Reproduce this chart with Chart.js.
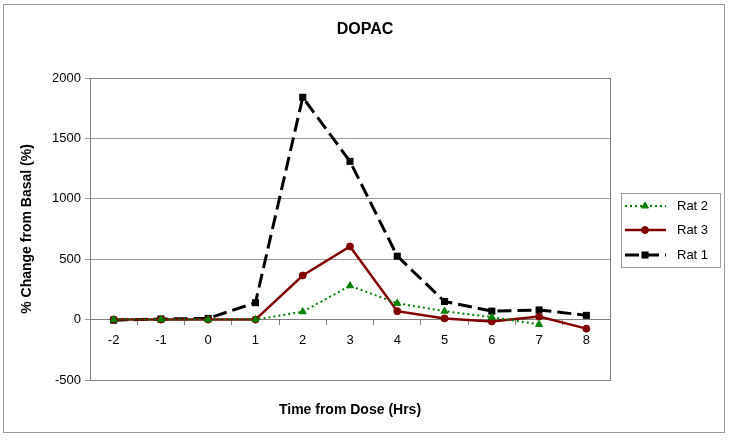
<!DOCTYPE html>
<html>
<head>
<meta charset="utf-8">
<script src="https://cdn.jsdelivr.net/npm/chart.js@4.4.0/dist/chart.umd.js"></script>
<style>
  html, body { margin: 0; padding: 0; background: #fff; }
  #wrap { width: 729px; height: 442px; position: relative; }
</style>
</head>
<body>
<div id="wrap"><canvas id="dopac" width="729" height="442"></canvas></div>
<script>
// data
const hours = ['-2', '-1', '0', '1', '2', '3', '4', '5', '6', '7', '8'];
const rat2 = [0, 0, 0, 0, 65, 280, 135, 70, 20, -40, null];
const rat3 = [0, 0, 0, 0, 365, 605, 70, 10, -15, 25, -75];
const rat1 = [-5, 5, 10, 140, 1840, 1310, 525, 150, 70, 80, 35];
const yTicks = { min: -500, max: 2000, step: 500 };

const FONT = '"Liberation Sans", Arial, sans-serif';
const GRID = '#9a9a9a';

// frame, plot border, titles and boxed legend drawn by hand
const decorations = {
  id: 'decorations',
  afterDraw(chart) {
    const ctx = chart.ctx;
    const a = chart.chartArea;
    ctx.save();
    ctx.strokeStyle = '#9a9a9a';
    ctx.lineWidth = 1;
    ctx.strokeRect(3.5, 4.5, 721, 428);
    ctx.strokeStyle = '#808080';
    ctx.strokeRect(Math.round(a.left) + 0.5, Math.round(a.top) + 0.5,
      Math.round(a.right - a.left), Math.round(a.bottom - a.top));

    ctx.fillStyle = '#000';
    ctx.textAlign = 'center';
    ctx.textBaseline = 'middle';
    ctx.font = 'bold 16px ' + FONT;
    ctx.fillText('DOPAC', 365, 30);
    ctx.font = 'bold 14px ' + FONT;
    ctx.fillText('Time from Dose (Hrs)', (a.left + a.right) / 2, 410);

    // legend
    const lx = 621, ly = 193, lw = 99, lh = 74;
    ctx.fillStyle = '#fff';
    ctx.fillRect(lx, ly, lw, lh);
    ctx.strokeStyle = '#9a9a9a';
    ctx.strokeRect(lx + 0.5, ly + 0.5, lw, lh);
    const rows = [206, 230, 255];
    chart.data.datasets.forEach((ds, i) => {
      const y = rows[i];
      ctx.save();
      ctx.strokeStyle = ds.borderColor;
      ctx.lineWidth = ds.borderWidth;
      ctx.setLineDash(ds.borderDash || []);
      ctx.beginPath();
      ctx.moveTo(625, y);
      ctx.lineTo(666, y);
      ctx.stroke();
      ctx.restore();
      ctx.fillStyle = ds.pointBackgroundColor;
      ctx.strokeStyle = ds.pointBorderColor;
      Chart.helpers.drawPoint(ctx, {
        pointStyle: ds.pointStyle, radius: ds.pointRadius, borderWidth: ds.pointBorderWidth
      }, 645, y);
      ctx.fillStyle = '#000';
      ctx.font = '13px ' + FONT;
      ctx.textAlign = 'left';
      ctx.fillText(ds.label, 677, y);
    });
    ctx.restore();
  }
};

new Chart(document.getElementById('dopac'), {
  type: 'line',
  data: {
    labels: hours,
    datasets: [
      {
        label: 'Rat 2',
        data: rat2,
        borderColor: '#008000',
        backgroundColor: '#008000',
        pointBackgroundColor: '#008000',
        pointBorderColor: '#008000',
        pointBorderWidth: 1,
        borderWidth: 2,
        borderDash: [2, 3],
        pointStyle: 'triangle',
        pointRadius: 4,
        tension: 0
      },
      {
        label: 'Rat 3',
        data: rat3,
        borderColor: '#800000',
        backgroundColor: '#800000',
        pointBackgroundColor: '#800000',
        pointBorderColor: '#800000',
        pointBorderWidth: 1,
        borderWidth: 2.5,
        pointStyle: 'circle',
        pointRadius: 3.5,
        tension: 0
      },
      {
        label: 'Rat 1',
        data: rat1,
        borderColor: '#000000',
        backgroundColor: '#000000',
        pointBackgroundColor: '#000000',
        pointBorderColor: '#000000',
        pointBorderWidth: 0,
        borderWidth: 3,
        borderDash: [14, 6],
        pointStyle: 'rect',
        pointRadius: 5,
        tension: 0
      }
    ]
  },
  options: {
    responsive: false,
    animation: false,
    layout: { padding: { left: 0, right: 119, top: 78, bottom: 62 } },
    plugins: {
      legend: { display: false },
      tooltip: { enabled: false },
      title: { display: false }
    },
    scales: {
      x: {
        type: 'category',
        position: { y: 0 },
        offset: true,
        afterFit: s => { s.height = 0; },
        grid: {
          offset: true,
          drawOnChartArea: false,
          drawTicks: true,
          tickLength: 5,
          color: '#808080'
        },
        border: { display: true, color: '#808080', width: 1 },
        ticks: {
          color: '#000',
          padding: 8,
          maxRotation: 0,
          font: { family: FONT, size: 13 }
        }
      },
      y: {
        min: yTicks.min,
        max: yTicks.max,
        afterFit: s => { s.width = 90; },
        grid: { color: GRID, tickLength: 5 },
        border: { display: true, color: '#808080' },
        ticks: {
          stepSize: yTicks.step,
          color: '#000',
          padding: 4,
          font: { family: FONT, size: 13 },
          callback: v => String(v)
        },
        title: {
          display: true,
          text: '% Change from Basal (%)',
          color: '#000',
          font: { family: FONT, size: 14, weight: 'bold' },
          padding: { top: 19, bottom: 0 }
        }
      }
    }
  },
  plugins: [decorations]
});
</script>
</body>
</html>
